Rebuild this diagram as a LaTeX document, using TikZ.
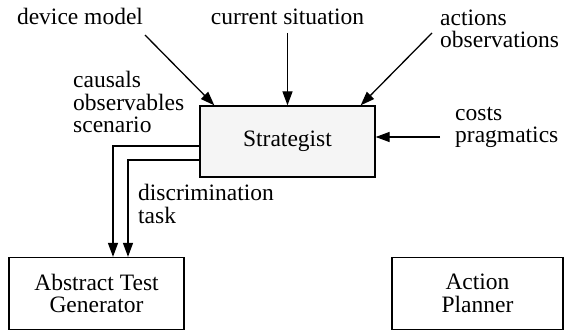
\documentclass[tikz,border=0pt]{standalone}
\usepackage{fontspec}
\setmainfont{Liberation Serif}
\usetikzlibrary{arrows.meta}
\begin{document}
\begin{tikzpicture}[x=1pt,y=-1pt,
  every node/.style={font=\fontsize{23.5}{22.5}\selectfont, inner sep=0pt},
  module/.style={draw, line width=1.3pt, align=center},
  lbl/.style={align=left, anchor=base west},
  flow/.style={line width=1.3pt, -{Triangle[length=14pt,width=10pt]}}]
\useasboundingbox (0,0) rectangle (564,331);

% processing modules
\node[module, fill=black!4, minimum width=175pt, minimum height=71pt] (strat) at (287.5,141.5) {Strategist};
\node[module, minimum width=175pt, minimum height=72pt] (atg) at (96.5,293.5) {Abstract Test\\Generator};
\node[module, minimum width=171pt, minimum height=72pt] (ap) at (477.5,293.5) {Action\\Planner};

% input labels (base anchor sits on the last line)
\node[anchor=base] (dm) at (80,25) {device model};
\node[anchor=base] (cs) at (287.5,25) {current situation};
\node[lbl] (ao) at (440,48) {actions\\observations};
\node[lbl] (cp) at (455,143) {costs\\pragmatics};
\node[lbl] (cos) at (73,133) {causals\\observables\\scenario};
\node[lbl] (dt) at (138,223) {discrimination\\task};

% arrow start points
\coordinate (dmS) at (145,35);
\coordinate (csS) at (287.5,33);
\coordinate (aoS) at (432,33);
\coordinate (cpS) at (440,137);

% inputs into the strategist
\draw[flow] (dmS) -- ([xshift=15pt]strat.north west);
\draw[flow] (csS) -- (strat.north);
\draw[flow] (aoS) -- ([xshift=-15pt]strat.north east);
\draw[flow] (cpS) -- (cpS -| strat.east);

% outputs to the test generator
\draw[flow] ([yshift=-4.5pt]strat.west) -| ([xshift=16.5pt]atg.north);
\draw[flow] ([yshift=-18.5pt]strat.west) -| ([xshift=31.5pt]atg.north);
\end{tikzpicture}
\end{document}
